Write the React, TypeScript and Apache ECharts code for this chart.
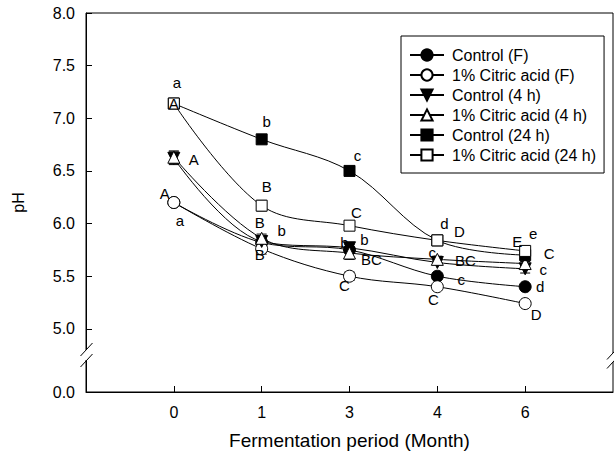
import React, { useEffect, useRef } from "react";
import * as echarts from "echarts";

const months = ["0", "1", "3", "4", "6"];
const yTickValues = [4.4, 5, 5.5, 6, 6.5, 7, 7.5, 8];

const controlF = [6.2, 5.82, 5.75, 5.5, 5.4];
const citricF = [6.2, 5.76, 5.5, 5.4, 5.24];
const control4h = [6.62, 5.83, 5.77, 5.63, 5.57];
const citric4h = [6.63, 5.86, 5.72, 5.66, 5.62];
const control24h = [7.14, 6.8, 6.5, 5.84, 5.7];
const citric24h = [7.14, 6.17, 5.98, 5.84, 5.74];

const sdControlF = [0.02, 0.02, 0.02, 0.02, 0.02];
const sdCitricF = [0.03, 0.05, 0.04, 0.02, 0.02];
const sdControl4h = [0.06, 0.03, 0.03, 0.02, 0.04];
const sdCitric4h = [0.06, 0.04, 0.06, 0.03, 0.02];
const sdControl24h = [0.02, 0.02, 0.02, 0.02, 0.02];
const sdCitric24h = [0.02, 0.05, 0.02, 0.02, 0.02];

const lettersControlF = ["a", "", "b", "c", "d"];
const lettersCitricF = ["A", "B", "C", "C", "D"];
const lettersControl4h = ["", "b", "b", "c", "c"];
const lettersCitric4h = ["A", "B", "BC", "BC", "C"];
const lettersControl24h = ["a", "b", "c", "d", "e"];
const lettersCitric24h = ["A", "B", "C", "D", "E"];

// label offsets (style only)
const offControlF = [[6, 18], [0, 0], [-5, -7], [24, 3], [15, 0]];
const offCitricF = [[-9, -9], [-2, 6], [-5, 9], [-4, 13], [11, 11]];
const offControl4h = [[0, 0], [20, -11], [15, -8], [-5, -10], [18, 1]];
const offCitric4h = [[20, 2], [-2, -16], [22, 6], [28, 1], [24, -10]];
const offControl24h = [[3, -21], [5, -18], [8, -15], [7, -17], [8, -22]];
const offCitric24h = [[0, 0], [5, -19], [7, -13], [22, -9], [-8, -9]];

const FONT = "'Liberation Sans', Arial, sans-serif";

type Def = {
  name: string;
  values: number[];
  sd: number[];
  letters: string[];
  offs: number[][];
  symbol: string;
  filled: boolean;
  rotate?: number;
};

const defs: Def[] = [
  { name: "Control (F)", values: controlF, sd: sdControlF, letters: lettersControlF, offs: offControlF, symbol: "circle", filled: true },
  { name: "1% Citric acid (F)", values: citricF, sd: sdCitricF, letters: lettersCitricF, offs: offCitricF, symbol: "circle", filled: false },
  { name: "Control (4 h)", values: control4h, sd: sdControl4h, letters: lettersControl4h, offs: offControl4h, symbol: "triangle", filled: true, rotate: 180 },
  { name: "1% Citric acid (4 h)", values: citric4h, sd: sdCitric4h, letters: lettersCitric4h, offs: offCitric4h, symbol: "triangle", filled: false },
  { name: "Control (24 h)", values: control24h, sd: sdControl24h, letters: lettersControl24h, offs: offControl24h, symbol: "rect", filled: true },
  { name: "1% Citric acid (24 h)", values: citric24h, sd: sdCitric24h, letters: lettersCitric24h, offs: offCitric24h, symbol: "rect", filled: false },
];

export default function App() {
  const ref = useRef<HTMLDivElement>(null);
  useEffect(() => {
    if (!ref.current) return;
    const chart = echarts.init(ref.current, null, { renderer: "svg" });

    const lineSeries: any[] = defs.map((d) => ({
      name: d.name,
      type: "line",
      smooth: 0.35,
      symbol: d.symbol,
      symbolSize: d.symbol === "rect" ? 11 : 12,
      symbolRotate: d.rotate || 0,
      showAllSymbol: true,
      lineStyle: { color: "#000", width: 1 },
      itemStyle: { color: d.filled ? "#000" : "#fff", borderColor: "#000", borderWidth: 1 },
      z: 3,
      data: d.values.map((v, i) => ({
        value: [i, v],
        label: {
          show: d.letters[i] !== "",
          formatter: d.letters[i],
          position: "inside",
          offset: d.offs[i],
          color: "#000",
          fontSize: 15,
          fontFamily: FONT,
        },
      })),
    }));

    const errSeries: any[] = defs.map((d) => ({
      type: "custom",
      silent: true,
      z: 2,
      data: d.values.map((v, i) => [i, v - d.sd[i], v + d.sd[i]]),
      renderItem: (params: any, api: any) => {
        const x = api.value(0);
        const lo = api.coord([x, api.value(1)]);
        const hi = api.coord([x, api.value(2)]);
        const w = 5;
        const style = { stroke: "#000", lineWidth: 1 };
        return {
          type: "group",
          children: [
            { type: "line", shape: { x1: lo[0], y1: lo[1], x2: hi[0], y2: hi[1] }, style },
            { type: "line", shape: { x1: lo[0] - w, y1: lo[1], x2: lo[0] + w, y2: lo[1] }, style },
            { type: "line", shape: { x1: hi[0] - w, y1: hi[1], x2: hi[0] + w, y2: hi[1] }, style },
          ],
        };
      },
    }));

    const slash = (cx: number, cy: number) => ({
      type: "line",
      z: 100,
      shape: { x1: cx - 6, y1: cy + 6.5, x2: cx + 6, y2: cy - 6.5 },
      style: { stroke: "#000", lineWidth: 1 },
    });

    const option: any = {
      animation: false,
      backgroundColor: "#fff",
      textStyle: { fontFamily: FONT },
      grid: {
        left: 86,
        right: 1,
        top: 13,
        bottom: 63,
        show: true,
        borderColor: "#000",
        borderWidth: 1,
        containLabel: false,
      },
      legend: {
        left: 401,
        top: 36,
        orient: "vertical",
        backgroundColor: "#fff",
        borderColor: "#000",
        borderWidth: 1,
        borderRadius: 0,
        padding: [11, 8, 10, 8],
        itemWidth: 34,
        itemHeight: 14,
        itemGap: 4,
        textStyle: { fontSize: 16, lineHeight: 16, color: "#000", fontFamily: FONT, padding: [0, 0, 0, 3] },
        data: defs.map((d) => d.name),
      },
      xAxis: {
        type: "value",
        min: -1,
        max: 5,
        axisLine: { show: true, onZero: false, lineStyle: { color: "#000", width: 1 } },
        axisTick: { show: true, inside: true, length: 6, customValues: [0, 1, 2, 3, 4], lineStyle: { color: "#000" } },
        axisLabel: {
          customValues: [0, 1, 2, 3, 4],
          formatter: (v: number) => months[Math.round(v)] ?? "",
          color: "#000",
          fontSize: 16,
          margin: 12,
          fontFamily: FONT,
        },
        splitLine: { show: false },
        name: "Fermentation period (Month)",
        nameLocation: "middle",
        nameGap: 39,
        nameTextStyle: { fontSize: 19, color: "#000", fontFamily: FONT },
      },
      yAxis: {
        type: "value",
        min: 4.4,
        max: 8,
        axisLine: { show: true, onZero: false, lineStyle: { color: "#000", width: 1 } },
        axisTick: { show: true, inside: true, length: 6, customValues: yTickValues, lineStyle: { color: "#000" } },
        axisLabel: {
          customValues: yTickValues,
          formatter: (v: number) => (v < 4.9 ? "0.0" : v.toFixed(1)),
          color: "#000",
          fontSize: 16,
          margin: 11,
          fontFamily: FONT,
        },
        splitLine: { show: false },
        name: "pH",
        nameLocation: "middle",
        nameRotate: 90,
        nameGap: 60,
        nameTextStyle: { fontSize: 16, color: "#000", fontFamily: FONT },
      },
      graphic: [
        { type: "rect", z: 99, shape: { x: 82, y: 350, width: 8, height: 10 }, style: { fill: "#fff" } },
        slash(86.5, 349.5),
        slash(86.5, 360.5),
        { type: "rect", z: 99, shape: { x: 609, y: 353, width: 8, height: 9 }, style: { fill: "#fff" } },
        slash(613, 353),
        slash(613, 362),
      ],
      series: [...errSeries, ...lineSeries],
    };
    chart.setOption(option);
    return () => chart.dispose();
  }, []);
  return <div ref={ref} style={{ position: "fixed", left: 0, top: 0, width: 614, height: 455 }} />;
}
